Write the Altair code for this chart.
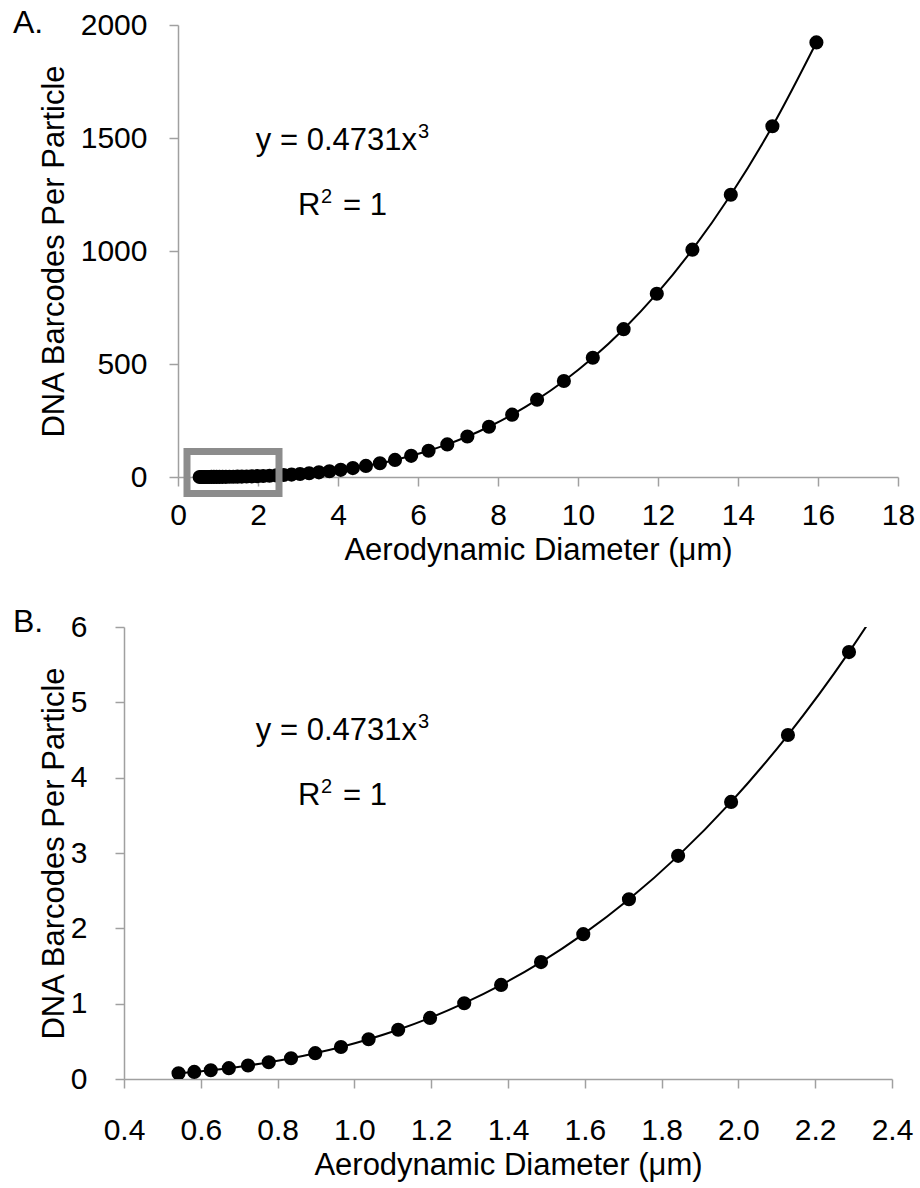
import altair as alt
import pandas as pd

# Aerodynamic diameter (um) of each size channel
diameter = [0.542, 0.583, 0.626, 0.673, 0.723, 0.777, 0.835, 0.898, 0.965, 1.037,
            1.114, 1.197, 1.286, 1.382, 1.486, 1.596, 1.715, 1.843, 1.981, 2.129,
            2.288, 2.458, 2.642, 2.839, 3.051, 3.278, 3.523, 3.786, 4.068, 4.371,
            4.698, 5.048, 5.425, 5.829, 6.264, 6.732, 7.234, 7.774, 8.354, 8.977,
            9.647, 10.37, 11.14, 11.97, 12.86, 13.82, 14.86, 15.96]
# DNA barcodes per particle
barcodes = [0.075, 0.094, 0.116, 0.144, 0.179, 0.222, 0.275, 0.343, 0.425, 0.528,
            0.654, 0.811, 1.006, 1.249, 1.552, 1.923, 2.386, 2.962, 3.678, 4.566,
            5.667, 7.03, 8.72, 10.83, 13.44, 16.66, 20.69, 25.67, 31.85, 39.5,
            49.1, 60.9, 75.5, 93.7, 116.3, 144.3, 179.1, 222.3, 275.8, 342.3,
            424.8, 527.6, 654.0, 811.0, 1006.0, 1249.0, 1552.0, 1923.0]

x_ticks_a = [0, 2, 4, 6, 8, 10, 12, 14, 16, 18]
y_ticks_a = [0, 500, 1000, 1500, 2000]
x_ticks_b = [0.4, 0.6, 0.8, 1.0, 1.2, 1.4, 1.6, 1.8, 2.0, 2.2, 2.4]
y_ticks_b = [0, 1, 2, 3, 4, 5, 6]

# zoom box drawn on panel A (data units)
box_x = [0.225, 2.525]
box_y = [-73, 113]

df = pd.DataFrame({"d": diameter, "n": barcodes})
FONT = "Liberation Sans"
XTITLE = "Aerodynamic Diameter (μm)"
YTITLE = "DNA Barcodes Per Particle"
ORIGIN_X = 124  # page x of the shared plot origin


def txt(s, x, y, size=31, align="left"):
    return alt.Chart(pd.DataFrame({"t": [s]})).mark_text(
        text=s, font=FONT, fontSize=size, align=align, baseline="alphabetic",
        color="black", clip=False
    ).encode(x=alt.value(x), y=alt.value(y))


def panel(xdom, ydom, xticks, yticks, w, h, xfmt, yfmt, shift, top, letter,
          letter_y, ylabpad, xlabpad, xtitle_y, clip, with_box):
    axis_x = ORIGIN_X + shift  # page x of the y axis
    xax = alt.Axis(values=xticks, format=xfmt, title=XTITLE, labelPadding=xlabpad,
                   labelBaseline="alphabetic", titleBaseline="alphabetic",
                   titleY=xtitle_y)
    yax = alt.Axis(values=yticks, format=yfmt, title=YTITLE, labelPadding=ylabpad,
                   titleBaseline="alphabetic", titleX=63 - axis_x, titleAngle=-90,
                   offset=-shift)
    x = alt.X("d:Q", scale=alt.Scale(domain=xdom, nice=False, zero=False,
                                     range=[shift, w]), axis=xax)
    y = alt.Y("n:Q", scale=alt.Scale(domain=ydom, nice=False, zero=False), axis=yax)
    base = alt.Chart(df)
    line = base.mark_line(color="black", strokeWidth=2, interpolate="monotone",
                          clip=clip).encode(x=x, y=y)
    pts = base.mark_circle(color="black", size=200, opacity=1, clip=clip).encode(x=x, y=y)
    layers = [line, pts]
    if with_box:
        box = alt.Chart(pd.DataFrame({"x1": [box_x[0]], "x2": [box_x[1]],
                                      "y1": [box_y[0]], "y2": [box_y[1]]})).mark_rect(
            filled=False, color="#8c8c8c", strokeWidth=7, clip=False
        ).encode(x=alt.X("x1:Q"), x2="x2:Q", y=alt.Y("y1:Q"), y2="y2:Q")
        layers.append(box)
    eq_y = (150 if top < 100 else 740) - top
    r_y = eq_y + 65
    layers += [
        txt("y = 0.4731x", 417 - ORIGIN_X, eq_y, align="right"),
        txt("3", 418 - ORIGIN_X, eq_y - 12, size=20),
        txt("R", 298 - ORIGIN_X, r_y),
        txt("2", 321 - ORIGIN_X, r_y - 12, size=20),
        txt("= 1", 387 - ORIGIN_X, r_y, align="right"),
        txt(letter, 13 - ORIGIN_X, letter_y, size=32),
    ]
    return alt.layer(*layers).properties(width=w, height=h)


chart_a = panel([0, 18], [0, 2000], x_ticks_a, y_ticks_a, 774, 452, "d", "d",
                54, 25, "A.", 8, 22, 38, 82, False, True)
chart_b = panel([0.4, 2.4], [0, 6], x_ticks_b, y_ticks_b, 768, 452, ".1f", "d",
                0, 627, "B.", 5, 28, 51, 95, True, False)

chart = alt.vconcat(chart_a, chart_b, spacing=41).properties(
    padding={"left": 13, "top": 7, "right": 2, "bottom": 2},
    background="white",
).configure_view(stroke=None).configure_axis(
    labelFont=FONT, labelFontSize=30, labelColor="black",
    titleFont=FONT, titleFontSize=31, titleFontWeight="normal", titleColor="black",
    domainColor="#a0a0a0", domainWidth=1.5, tickColor="#a0a0a0", tickWidth=1.5,
    tickSize=9, grid=False, labelFlush=False, labelOverlap=False, labelBound=False,
)

chart.save("out.html", embed_options={"renderer": "svg", "actions": False})
